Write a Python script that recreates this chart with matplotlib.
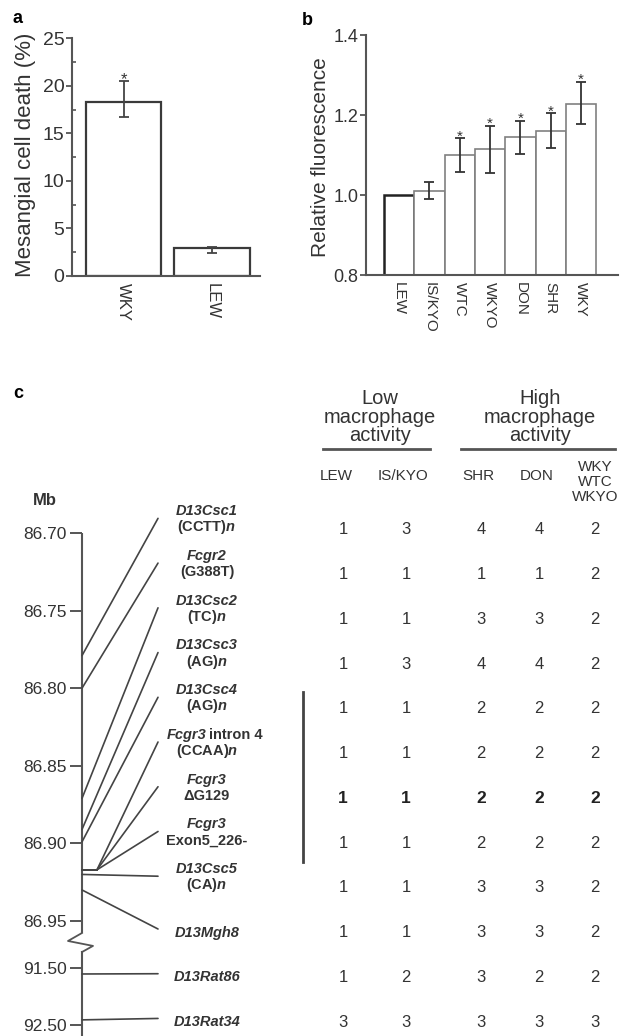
import numpy as np
import matplotlib
matplotlib.use('Agg')
import matplotlib.pyplot as plt
from matplotlib.patches import ConnectionPatch
from matplotlib.ticker import MultipleLocator, FixedLocator, NullLocator, FuncFormatter

plt.rcParams['font.family'] = ['Liberation Sans', 'DejaVu Sans']
plt.rcParams['mathtext.fontset'] = 'custom'
plt.rcParams['mathtext.it'] = 'Liberation Sans:italic:bold'
plt.rcParams['mathtext.rm'] = 'Liberation Sans:bold'
plt.rcParams['mathtext.bf'] = 'Liberation Sans:bold'

# ---------------- data ----------------
# panel a
a_strains = ['WKY', 'LEW']
a_death = [18.3, 2.9]
a_err_low = [16.7, 2.4]
a_err_high = [20.5, 3.1]
a_sig = [True, False]

# panel b
b_strains = ['LEW', 'IS/KYO', 'WTC', 'WKYO', 'DON', 'SHR', 'WKY']
b_fluor = [1.0, 1.01, 1.10, 1.115, 1.144, 1.161, 1.228]
b_err_low = [np.nan, 0.989, 1.058, 1.054, 1.102, 1.118, 1.177]
b_err_high = [np.nan, 1.033, 1.142, 1.173, 1.186, 1.204, 1.283]
b_sig = [False, False, True, True, True, True, True]

# panel c
marker_genes = ['D13Csc1', 'Fcgr2', 'D13Csc2', 'D13Csc3', 'D13Csc4', 'Fcgr3',
                'Fcgr3', 'Fcgr3', 'D13Csc5', 'D13Mgh8', 'D13Rat86', 'D13Rat34']
marker_suffix = ['', '', '', '', '', 'intron 4', '', '', '', '', '', '']
marker_variants = [r'(CCTT)$\mathit{n}$', '(G388T)', r'(TC)$\mathit{n}$', r'(AG)$\mathit{n}$',
                   r'(AG)$\mathit{n}$', r'(CCAA)$\mathit{n}$', '\u0394G129', 'Exon5_226-',
                   r'(CA)$\mathit{n}$', '', '', '']
marker_mb = [86.779, 86.800, 86.871, 86.891, 86.899, 86.917, 86.917, 86.917,
             86.920, 86.930, 91.605, 92.41]
mb_ticks = [86.70, 86.75, 86.80, 86.85, 86.90, 86.95, 91.50, 92.50]
mb_break = (86.95, 91.50)

table_strains = ['LEW', 'IS/KYO', 'SHR', 'DON', 'WKY\nWTC\nWKYO']
group_labels = ['Low\nmacrophage\nactivity', 'High\nmacrophage\nactivity']
alleles = {
    'LEW':    [1, 1, 1, 1, 1, 1, 1, 1, 1, 1, 1, 3],
    'IS/KYO': [3, 1, 1, 3, 1, 1, 1, 1, 1, 1, 2, 3],
    'SHR':    [4, 1, 3, 4, 2, 2, 2, 2, 3, 3, 3, 3],
    'DON':    [4, 1, 3, 4, 2, 2, 2, 2, 3, 3, 2, 3],
    'WKY\nWTC\nWKYO': [2, 2, 2, 2, 2, 2, 2, 2, 2, 2, 2, 3],
}
bold_row = 6
block_rows = (4, 7)

# ---------------- styling ----------------
TXT = '#333333'
LN = '#555555'
W, H = 629, 1036
fig = plt.figure(figsize=(W / 100, H / 100), dpi=100)
fig.patch.set_facecolor('white')


def style_axes(ax):
    for s in ['top', 'right']:
        ax.spines[s].set_visible(False)
    for s in ['left', 'bottom']:
        ax.spines[s].set_color(LN)
        ax.spines[s].set_linewidth(1.5)
    ax.tick_params(axis='y', which='major', direction='out', length=4, width=1.3,
                   color=LN, labelcolor=TXT, pad=1.5)
    ax.tick_params(axis='x', length=0, labelcolor=TXT, pad=5)


# ---------------- panel a ----------------
axa = fig.add_axes([72 / W, 1 - 276 / H, 188 / W, 237.7 / H])
xa = np.arange(len(a_strains))
axa.bar(xa, a_death, width=0.85, color='white', edgecolor='#3a3a3a', linewidth=1.6, zorder=2)
ya = np.array(a_death)
axa.errorbar(xa, ya, yerr=[ya - np.array(a_err_low), np.array(a_err_high) - ya], fmt='none',
             ecolor='#444444', elinewidth=1.3, capsize=3.5, capthick=1.3, zorder=3)
for i, s in enumerate(a_sig):
    if s:
        axa.annotate('*', xy=(xa[i], a_err_high[i]), xytext=(0, -2), textcoords='offset points',
                     ha='center', va='baseline', fontsize=12, color=TXT)
axa.set_xlim(-0.582, 1.542)
axa.set_ylim(0, 25)
style_axes(axa)
axa.yaxis.set_major_locator(MultipleLocator(5))
axa.yaxis.set_minor_locator(MultipleLocator(2.5))
axa.tick_params(axis='y', which='minor', direction='in', length=3, width=1.2, color=LN)
axa.tick_params(axis='y', labelsize=14)
axa.set_xticks(xa)
axa.set_xticklabels(a_strains, rotation=-90, fontsize=12)
axa.set_ylabel('Mesangial cell death (%)', fontsize=16, color=TXT)
axa.yaxis.set_label_coords((36 - 72) / 188, 0.509)

# ---------------- panel b ----------------
axb = fig.add_axes([366 / W, 1 - 275 / H, 252 / W, 240 / H])
xb = np.arange(len(b_strains))
ecols = ['#222222'] + ['#808080'] * (len(b_strains) - 1)
lws = [1.8] + [1.2] * (len(b_strains) - 1)
axb.bar(xb, np.array(b_fluor) - 0.8, bottom=0.8, width=1.0, color='white',
        edgecolor=ecols, linewidth=lws, zorder=2)
yb = np.array(b_fluor)
lo = np.array(b_err_low)
hi = np.array(b_err_high)
ok = ~np.isnan(lo)
axb.errorbar(xb[ok], yb[ok], yerr=[yb[ok] - lo[ok], hi[ok] - yb[ok]], fmt='none',
             ecolor='#333333', elinewidth=1.3, capsize=3.5, capthick=1.3, zorder=3)
for i, s in enumerate(b_sig):
    if s:
        axb.annotate('*', xy=(xb[i], b_err_high[i]), xytext=(0, -1.5), textcoords='offset points',
                     ha='center', va='baseline', fontsize=11, color=TXT)
axb.set_xlim(-1.089, 7.22)
axb.set_ylim(0.8, 1.4)
style_axes(axb)
axb.set_yticks([0.8, 1.0, 1.2, 1.4])
axb.set_yticklabels(['0.8', '1.0', '1.2', '1.4'])
axb.tick_params(axis='y', labelsize=13)
axb.set_xticks(xb)
axb.set_xticklabels(b_strains, rotation=-90, fontsize=11)
axb.set_ylabel('Relative fluorescence', fontsize=15, color=TXT)
axb.yaxis.set_label_coords((330 - 366) / 252, (275 - 157) / 240)

# ---------------- panel c : physical map axis ----------------
knots_mb = np.array([80.0, 86.70, 86.95, 91.50, 100.0])
knots_u = np.array([(80.0 - 86.70) * 1552, 0.0, 388.0, 435.0, 435.0 + 8.5 * 57])


def fwd(v):
    return np.interp(v, knots_mb, knots_u)


def inv(u):
    return np.interp(u, knots_u, knots_mb)


axm = fig.add_axes([82 / W, 0, 88 / W, (H - 533) / H])
axm.set_yscale('function', functions=(fwd, inv))
axm.set_ylim(inv(503.0), 86.70)
axm.set_xlim(0, 88)
for s in axm.spines.values():
    s.set_visible(False)
axm.patch.set_visible(False)
axm.yaxis.set_major_locator(FixedLocator(mb_ticks))
axm.yaxis.set_minor_locator(NullLocator())
axm.yaxis.set_major_formatter(FuncFormatter(lambda v, p: f'{v:.2f}'))
axm.tick_params(axis='y', direction='out', length=9, width=1.4, color=LN,
                labelcolor=TXT, labelsize=12.5, pad=2)
axm.set_xticks([])

blo, bhi = mb_break
zig_y = blo + (bhi - blo) * np.array([0.255, 0.425, 0.53, 0.66])
zig_x = [0, -14, 11, 0]
axm.plot([0, 0], [mb_ticks[0], zig_y[0]], color=LN, lw=1.5, clip_on=False, solid_capstyle='butt')
axm.plot(zig_x, zig_y, color=LN, lw=1.3, clip_on=False)
axm.plot([0, 0], [zig_y[-1], inv(510.0)], color=LN, lw=1.5, clip_on=False)

# ---------------- panel c : table overlay ----------------
row0_px, row_step = 530.0, 44.73
axt = fig.add_axes([0, 0, 1, 1])
axt.set_xlim(0, W)
axt.set_ylim((H - row0_px) / row_step, -row0_px / row_step)
axt.axis('off')

label_x = 207
line_end_x = 158
col_x = [343, 406, 481, 539, 595]
head_x = [336, 403, 478, 537, 595]
n_rows = len(marker_mb)
LBL = dict(fontsize=10.5, fontweight='bold', color=TXT, va='center')

for i in range(n_rows):
    mb = marker_mb[i]
    two = marker_variants[i] != ''
    stub = 15 if marker_mb.count(mb) > 1 else 0
    if stub:
        axm.plot([0, stub], [mb, mb], color='#444444', lw=1.2, clip_on=False)
    end_y = i - (0.26 if two else 0.08)
    con = ConnectionPatch(xyA=(stub, mb), coordsA=axm.transData,
                          xyB=(line_end_x, end_y), coordsB=axt.transData,
                          color='#444444', lw=1.2)
    axt.add_artist(con)
    name_y = i - 0.42 if two else i
    if marker_suffix[i]:
        axt.text(label_x - 1, name_y, marker_genes[i], ha='right', fontstyle='italic', **LBL)
        axt.text(label_x + 2, name_y, marker_suffix[i], ha='left', **LBL)
    else:
        axt.text(label_x, name_y, marker_genes[i], ha='center', fontstyle='italic', **LBL)
    if two:
        axt.text(label_x, i - 0.06, marker_variants[i], ha='center', **LBL)
    for j, st in enumerate(table_strains):
        axt.text(col_x[j], i, str(alleles[st][i]), ha='center', va='center',
                 fontsize=12.5 if i == bold_row else 12,
                 fontweight='heavy' if i == bold_row else 'normal',
                 color='#222222' if i == bold_row else TXT)

for j, st in enumerate(table_strains):
    multi = '\n' in st
    axt.text(head_x[j], -1.073 if multi else -1.207, st, ha='center', va='center',
             fontsize=11, color=TXT, linespacing=1.05)

group_line_x = [(323, 430), (461, 615)]
group_text_x = [380, 540]
for g, lab in enumerate(group_labels):
    axt.text(group_text_x[g], -2.526, lab, ha='center', va='center', fontsize=14.5,
             color=TXT, linespacing=0.95)
    axt.plot(group_line_x[g], [-1.811, -1.811], color=LN, lw=2)

axt.plot([303, 303], [block_rows[0] - 0.38, block_rows[1] + 0.42], color='#444444', lw=2)
axt.text(45, -0.67, 'Mb', ha='center', va='center', fontsize=12, fontweight='bold', color=TXT)

# panel letters
fig.text(13 / W, 1 - 23 / H, 'a', fontsize=13, fontweight='bold', color='black', va='baseline')
fig.text(302 / W, 1 - 25 / H, 'b', fontsize=13, fontweight='bold', color='black', va='baseline')
fig.text(13 / W, 1 - 398 / H, 'c', fontsize=13, fontweight='bold', color='black', va='baseline')

fig.savefig('out.png', dpi=100, facecolor='white')
